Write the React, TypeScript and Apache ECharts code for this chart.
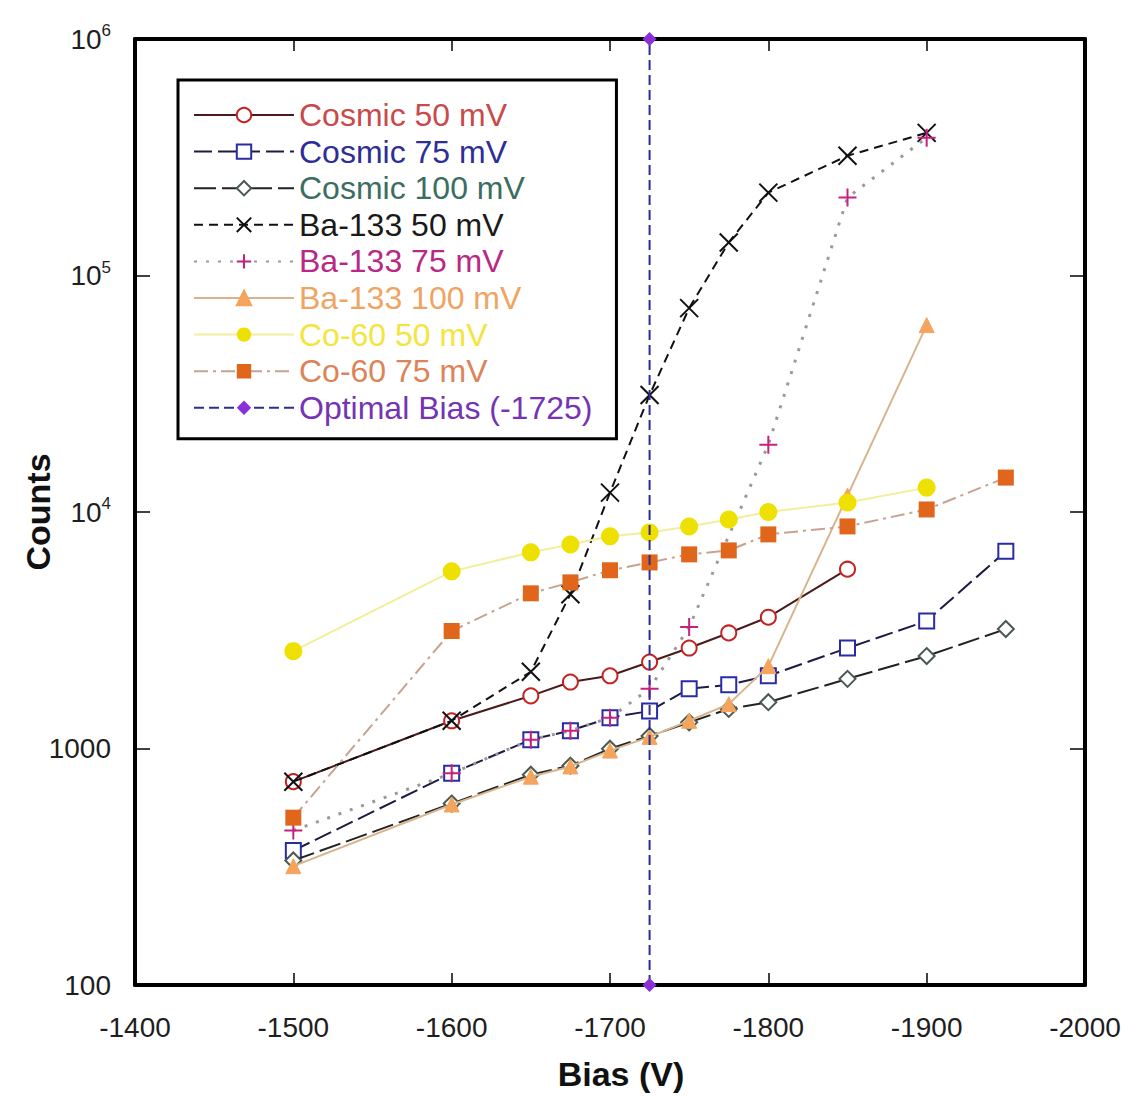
import React, { useEffect, useRef } from 'react';
import * as echarts from 'echarts';

const FONT = '"Liberation Sans", Arial, Helvetica, sans-serif';

// Detector bias settings (V) and measured counts for each run
const biasCosmic50 = [-1500, -1600, -1650, -1675, -1700, -1725, -1750, -1775, -1800, -1850];
const countsCosmic50 = [724, 1310, 1670, 1910, 2030, 2320, 2660, 3080, 3590, 5730];

const biasCosmic75 = [-1500, -1600, -1650, -1675, -1700, -1725, -1750, -1775, -1800, -1850, -1900, -1950];
const countsCosmic75 = [370, 785, 1090, 1190, 1350, 1440, 1790, 1860, 2030, 2660, 3460, 6820];

const biasCosmic100 = [-1500, -1600, -1650, -1675, -1700, -1725, -1750, -1775, -1800, -1850, -1900, -1950];
const countsCosmic100 = [336, 585, 775, 846, 998, 1130, 1290, 1470, 1570, 1970, 2460, 3200];

const biasBa50 = [-1500, -1600, -1650, -1675, -1700, -1725, -1750, -1775, -1800, -1850, -1900];
const countsBa50 = [724, 1310, 2110, 4490, 12080, 31260, 72800, 138000, 224000, 321000, 401000];

const biasBa75 = [-1500, -1600, -1650, -1675, -1700, -1725, -1750, -1800, -1850, -1900];
const countsBa75 = [450, 785, 1090, 1190, 1350, 1790, 3260, 19270, 213600, 382600];

const biasBa100 = [-1500, -1600, -1650, -1675, -1700, -1725, -1750, -1775, -1800, -1850, -1900];
const countsBa100 = [318, 580, 760, 840, 980, 1120, 1310, 1540, 2230, 11730, 61700];

const biasCo50 = [-1500, -1600, -1650, -1675, -1700, -1725, -1750, -1775, -1800, -1850, -1900];
const countsCo50 = [2580, 5610, 6750, 7290, 7890, 8200, 8690, 9300, 10000, 10970, 12680];

const biasCo75 = [-1500, -1600, -1650, -1675, -1700, -1725, -1750, -1775, -1800, -1850, -1900, -1950];
const countsCo75 = [510, 3140, 4530, 5040, 5670, 6120, 6620, 6880, 8040, 8690, 10250, 13980];

const optimalBias = -1725;
const biasOptimal = [optimalBias, optimalBias];
const countsOptimal = [100, 1000000];

const xTicks = { min: -2000, max: -1400, interval: 100 };
const yRange = { min: 100, max: 1000000 };

const zip = (xs: number[], ys: number[]) => xs.map((x, i) => [x, ys[i]]);

const CROSS = 'path://M0,0L20,20M20,0L0,20';
const PLUS = 'path://M10,0L10,20M0,10L20,10';

type Spec = {
  name: string;
  data: number[][];
  text: string;
  line: any;
  symbol: string;
  symbolSize: number;
  item: any;
};

const specs: Spec[] = [
  {
    name: 'Cosmic 50 mV', data: zip(biasCosmic50, countsCosmic50), text: '#c84a4a',
    line: { color: '#4a1a1a', width: 2, type: 'solid' },
    symbol: 'emptyCircle', symbolSize: 15, item: { color: '#c42222', borderColor: '#c42222', borderWidth: 2 },
  },
  {
    name: 'Cosmic 75 mV', data: zip(biasCosmic75, countsCosmic75), text: '#2e2e96',
    line: { color: '#1c1c44', width: 2, type: [18, 6] },
    symbol: 'emptyRect', symbolSize: 15, item: { color: '#2a2aa6', borderColor: '#2a2aa6', borderWidth: 2 },
  },
  {
    name: 'Cosmic 100 mV', data: zip(biasCosmic100, countsCosmic100), text: '#3c6e60',
    line: { color: '#222222', width: 2, type: [22, 6] },
    symbol: 'emptyDiamond', symbolSize: 16, item: { color: '#4a5a50', borderColor: '#4a5a50', borderWidth: 1.5 },
  },
  {
    name: 'Ba-133 50 mV', data: zip(biasBa50, countsBa50), text: '#1a1a1a',
    line: { color: '#111111', width: 2, type: [9, 6] },
    symbol: CROSS, symbolSize: 18, item: { color: '#111111', borderColor: '#111111', borderWidth: 2 },
  },
  {
    name: 'Ba-133 75 mV', data: zip(biasBa75, countsBa75), text: '#b82884',
    line: { color: '#9a9a9a', width: 3, type: [3, 9] },
    symbol: PLUS, symbolSize: 18, item: { color: '#c8207e', borderColor: '#c8207e', borderWidth: 2 },
  },
  {
    name: 'Ba-133 100 mV', data: zip(biasBa100, countsBa100), text: '#f0a462',
    line: { color: '#d8b48c', width: 2, type: 'solid' },
    symbol: 'triangle', symbolSize: 15, item: { color: '#f4a45c', borderColor: '#f4a45c', borderWidth: 1 },
  },
  {
    name: 'Co-60 50 mV', data: zip(biasCo50, countsCo50), text: '#f4e43c',
    line: { color: '#f2ee9c', width: 2, type: 'solid' },
    symbol: 'circle', symbolSize: 18, item: { color: '#eee000', borderColor: '#eee000', borderWidth: 0 },
  },
  {
    name: 'Co-60 75 mV', data: zip(biasCo75, countsCo75), text: '#dc8458',
    line: { color: '#c8a290', width: 2, type: [14, 5, 3, 5] },
    symbol: 'rect', symbolSize: 16, item: { color: '#e0661c', borderColor: '#e0661c', borderWidth: 0 },
  },
  {
    name: 'Optimal Bias (-1725)', data: zip(biasOptimal, countsOptimal), text: '#7434b4',
    line: { color: '#2c2c96', width: 2, type: [10, 5] },
    symbol: 'diamond', symbolSize: 14, item: { color: '#8a30d8', borderColor: '#8a30d8', borderWidth: 0 },
  },
];

const supLabel = (v: number) => {
  if (v <= 1000) return '{b|' + v + '}';
  return '{b|10}{s|' + Math.round(Math.log10(v)) + '}';
};

const labelRich = {
  b: { fontFamily: FONT, fontSize: 28, lineHeight: 34, color: '#1e1e1e' },
  s: { fontFamily: FONT, fontSize: 17, lineHeight: 14, color: '#1e1e1e', verticalAlign: 'top' },
};

const frameLine = { show: true, onZero: false, lineStyle: { color: '#000', width: 4 } };

const option: any = {
  animation: false,
  backgroundColor: '#ffffff',
  grid: { left: 135, right: 54, top: 39, bottom: 108, containLabel: false },
  legend: {
    orient: 'vertical',
    left: 178,
    top: 80,
    padding: [19, 24, 15, 15],
    borderColor: '#000',
    borderWidth: 3,
    backgroundColor: '#ffffff',
    itemWidth: 100,
    itemHeight: 18,
    itemGap: 4.6,
    selectedMode: false,
    textStyle: { fontFamily: FONT, fontSize: 32, lineHeight: 32 },
    data: specs.map((s) => ({ name: s.name, textStyle: { color: s.text } })),
  },
  xAxis: [
    {
      type: 'value', ...xTicks, inverse: true, position: 'bottom',
      axisLine: frameLine,
      axisTick: { show: true, inside: true, length: 12, lineStyle: { color: '#000', width: 1.5 } },
      axisLabel: { fontFamily: FONT, fontSize: 28, color: '#1e1e1e', margin: 28, formatter: (v: number) => String(v) },
      splitLine: { show: false },
      name: 'Bias (V)', nameLocation: 'middle', nameGap: 72, nameMoveOverlap: false,
      nameTextStyle: { fontFamily: FONT, fontSize: 34, fontWeight: 'bold', color: '#111', padding: [0, 0, 0, 22] },
    },
    {
      type: 'value', ...xTicks, inverse: true, position: 'top',
      axisLine: frameLine,
      axisTick: { show: true, inside: true, length: 12, lineStyle: { color: '#000', width: 1.5 } },
      axisLabel: { show: false },
      splitLine: { show: false },
    },
  ],
  yAxis: [
    {
      type: 'log', logBase: 10, ...yRange, position: 'left',
      axisLine: frameLine,
      axisTick: { show: true, inside: true, length: 15, lineStyle: { color: '#000', width: 1.5 } },
      minorTick: { show: false },
      axisLabel: { formatter: supLabel, rich: labelRich, margin: 24 },
      splitLine: { show: false },
      name: 'Counts', nameLocation: 'middle', nameGap: 80, nameRotate: 90, nameMoveOverlap: false,
      nameTextStyle: { fontFamily: FONT, fontSize: 34, fontWeight: 'bold', color: '#111' },
    },
    {
      type: 'log', logBase: 10, ...yRange, position: 'right',
      axisLine: frameLine,
      axisTick: { show: true, inside: true, length: 15, lineStyle: { color: '#000', width: 1.5 } },
      axisLabel: { show: false },
      splitLine: { show: false },
    },
  ],
  series: specs.map((s, i) => ({
    name: s.name,
    type: 'line',
    data: s.data,
    xAxisIndex: 0,
    yAxisIndex: 0,
    symbol: s.symbol,
    symbolSize: s.symbolSize,
    showAllSymbol: true,
    clip: i !== specs.length - 1,
    lineStyle: s.line,
    itemStyle: s.item,
    emphasis: { disabled: true },
    z: 2 + i,
  })),
};

export default function App() {
  const ref = useRef<HTMLDivElement>(null);
  useEffect(() => {
    const chart = echarts.init(ref.current as HTMLDivElement, null, { renderer: 'svg' });
    chart.setOption(option);
    return () => chart.dispose();
  }, []);
  return (
    <div
      ref={ref}
      style={{ position: 'fixed', left: 0, top: 0, width: 1139, height: 1096, background: '#fff' }}
    />
  );
}
